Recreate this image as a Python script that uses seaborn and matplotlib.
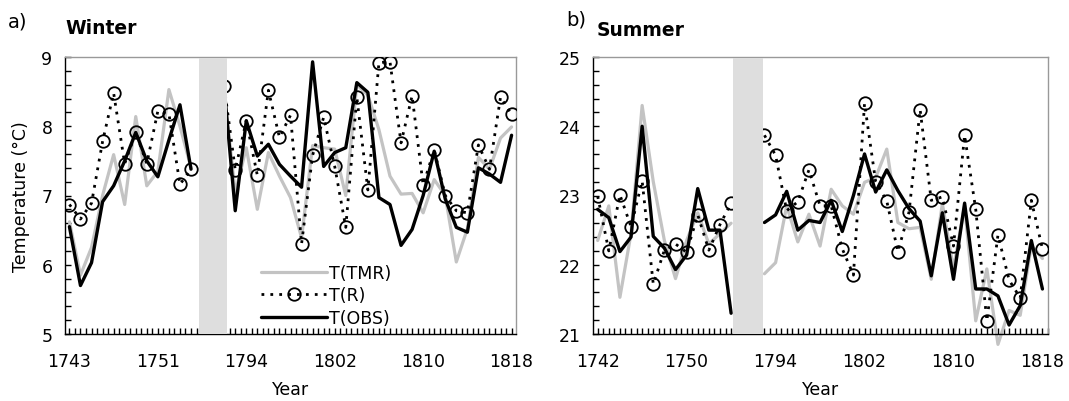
import numpy as np
import pandas as pd
import matplotlib
matplotlib.use("Agg")
import matplotlib.pyplot as plt
import seaborn as sns
from matplotlib.lines import Line2D
from matplotlib.ticker import MultipleLocator

# ---- Winter data (two periods, gap in between) ----
win_years_a = list(range(1743, 1755))
win_years_b = list(range(1792, 1819))
win_tmr_a = [6.62, 5.85, 6.25, 7.00, 7.59, 6.87, 8.14, 7.14, 7.35, 8.53, 8.00, 7.40]
win_r_a = [6.87, 6.66, 6.89, 7.78, 8.48, 7.46, 7.91, 7.46, 8.22, 8.18, 7.16, 7.38]
win_obs_a = [6.55, 5.70, 6.03, 6.91, 7.14, 7.50, 7.91, 7.50, 7.27, 7.80, 8.31, 7.38]
win_tmr_b = [8.50, 7.04, 7.69, 6.80, 7.62, 7.28, 6.97, 6.39, 7.72, 7.69, 7.67, 7.00, 8.60,
             8.45, 7.95, 7.28, 7.02, 7.03, 6.75, 7.23, 7.00, 6.04, 6.52, 7.55, 7.38, 7.83, 7.99]
win_r_b = [8.58, 7.37, 8.08, 7.29, 8.52, 7.84, 8.16, 6.30, 7.58, 8.13, 7.42, 6.54, 8.42,
           7.08, 8.92, 8.93, 7.76, 8.44, 7.15, 7.66, 7.00, 6.78, 6.75, 7.73, 7.38, 8.42, 8.17]
win_obs_b = [8.55, 6.78, 8.08, 7.57, 7.74, 7.45, 7.28, 7.12, 8.93, 7.42, 7.62, 7.69, 8.63,
             8.49, 6.97, 6.87, 6.28, 6.51, 7.00, 7.64, 6.95, 6.54, 6.47, 7.40, 7.31, 7.19, 7.87]

# ---- Summer data ----
sum_years_a = list(range(1742, 1755))
sum_years_b = list(range(1793, 1819))
sum_tmr_a = [22.35, 22.85, 21.53, 22.45, 24.30, 23.20, 22.35, 21.80, 22.35, 22.75, 22.30, 22.45, 22.60]
sum_r_a = [22.99, 22.20, 23.01, 22.55, 23.21, 21.72, 22.21, 22.30, 22.18, 22.72, 22.21, 22.58, 22.89]
sum_obs_a = [22.80, 22.68, 22.19, 22.40, 24.00, 22.41, 22.24, 21.93, 22.14, 23.10, 22.50, 22.50, 21.30]
sum_tmr_b = [21.87, 22.03, 22.85, 22.33, 22.73, 22.27, 23.09, 22.85, 22.73, 23.19, 23.26, 23.67, 22.61,
             22.52, 22.54, 21.79, 22.88, 21.94, 22.85, 21.19, 21.94, 20.85, 21.34, 21.27, 22.28, 22.09]
sum_r_b = [23.87, 23.58, 22.78, 22.91, 23.37, 22.85, 22.85, 22.23, 21.85, 24.33, 23.20, 22.92, 22.19,
           22.76, 24.24, 22.93, 22.98, 22.27, 23.87, 22.80, 21.19, 22.43, 21.78, 21.52, 22.93, 22.23]
sum_obs_b = [22.61, 22.72, 23.06, 22.50, 22.64, 22.61, 22.93, 22.48, 23.00, 23.60, 23.05, 23.37, 23.07,
             22.81, 22.63, 21.84, 22.75, 21.79, 22.89, 21.65, 21.65, 21.55, 21.13, 21.41, 22.35, 21.65]

win_ticklabels = ["1743", "1751", "1794", "1802", "1810", "1818"]
sum_ticklabels = ["1742", "1750", "1794", "1802", "1810", "1818"]

GRAY = "#c3c3c3"
BAND = "#dedede"
MS = 9


def positions(years_a, years_b, gap):
    # category positions: first period, 'gap' empty slots, second period
    pa = np.arange(len(years_a))
    pb = np.arange(len(years_b)) + len(years_a) + gap
    return pa, pb


def draw_panel(ax, pa, pb, tmr, r, obs, band, ylim, ticklabels, xlim):
    for pos, t, rr, o in [(pa, tmr[0], r[0], obs[0]), (pb, tmr[1], r[1], obs[1])]:
        sns.lineplot(x=pos, y=t, ax=ax, color=GRAY, lw=2.3, estimator=None,
                     sort=False, clip_on=False, zorder=2)
        sns.lineplot(x=pos, y=rr, ax=ax, color="black", lw=2.0, ls=(0, (1, 2.2)),
                     marker="o", markersize=MS, markerfacecolor="none",
                     markeredgecolor="black", markeredgewidth=1.3,
                     estimator=None, sort=False, zorder=3)
        sns.lineplot(x=pos, y=o, ax=ax, color="black", lw=2.4, estimator=None,
                     sort=False, zorder=4)
    ax.axvspan(band[0], band[1], ymin=0, ymax=0.995, color=BAND, lw=0, zorder=5)

    ax.set_xlim(*xlim)
    ax.set_ylim(*ylim)
    ax.set_xticks([0, 8, 16, 24, 32, 40])
    ax.set_xticklabels(ticklabels)
    ax.xaxis.set_minor_locator(MultipleLocator(0.5))
    ax.yaxis.set_major_locator(MultipleLocator(1))
    ax.yaxis.set_minor_locator(MultipleLocator(0.2))
    ax.xaxis.set_tick_params(which="major", length=4, width=1.0, direction="in",
                             color="black", pad=13, labelsize=12.5,
                             labelcolor="black", bottom=True, top=False)
    ax.xaxis.set_tick_params(which="minor", length=4, width=1.0, direction="in",
                             color="black", bottom=True, top=False)
    ax.yaxis.set_tick_params(which="both", length=4.5, width=1.0, direction="in",
                             color="black", left=True, right=False, pad=9,
                             labelsize=12.5, labelcolor="black")
    ax.set_xlabel("Year", fontsize=12.5, labelpad=7, color="black")
    ax.grid(False)
    for side in ["top", "right"]:
        ax.spines[side].set_color("#999999")
        ax.spines[side].set_linewidth(1.0)
    for side in ["left", "bottom"]:
        ax.spines[side].set_color("black")
        ax.spines[side].set_linewidth(1.0)


sns.set_theme(style="white")
plt.rcParams["font.family"] = ["DejaVu Sans"]
plt.rcParams["text.color"] = "black"
plt.rcParams["xtick.bottom"] = True
plt.rcParams["ytick.left"] = True

fig = plt.figure(figsize=(10.69, 4.02), dpi=100)
W, H = 1069, 402
ax1 = fig.add_axes([65 / W, 1 - 335 / H, 451 / W, 277 / H])
ax2 = fig.add_axes([593 / W, 1 - 335 / H, 455 / W, 277 / H])

wpa, wpb = positions(win_years_a, win_years_b, 2)
spa, spb = positions(sum_years_a, sum_years_b, 2)

draw_panel(ax1, wpa, wpb, (win_tmr_a, win_tmr_b), (win_r_a, win_r_b), (win_obs_a, win_obs_b),
           (11.7, 14.3), (5, 9), win_ticklabels, (-0.4, 40.4))
draw_panel(ax2, spa, spb, (sum_tmr_a, sum_tmr_b), (sum_r_a, sum_r_b), (sum_obs_a, sum_obs_b),
           (12.2, 14.9), (21, 25), sum_ticklabels, (-0.42, 40.5))

ax1.set_ylabel("Temperature (\u00b0C)", fontsize=12.5, labelpad=8, color="black")
ax2.set_ylabel("")

handles = [
    Line2D([], [], color=GRAY, lw=2.3),
    Line2D([], [], color="black", lw=2.0, ls=(0, (1, 2.2)), marker="o", markersize=MS,
           markerfacecolor="none", markeredgecolor="black", markeredgewidth=1.3),
    Line2D([], [], color="black", lw=2.4),
]
leg = ax1.legend(handles, ["T(TMR)", "T(R)", "T(OBS)"], loc="lower left",
                 bbox_to_anchor=(0.40, -0.03), frameon=False, fontsize=12.5,
                 handlelength=3.8, handletextpad=0.1, labelspacing=0.25, numpoints=1)
for t in leg.get_texts():
    t.set_color("black")

fig.text(8 / W, 1 - 22 / H, "a)", fontsize=14, va="center", ha="left", color="black")
fig.text(65 / W, 1 - 29 / H, "Winter", fontsize=13.5, fontweight="bold", va="center", ha="left", color="black")
fig.text(566 / W, 1 - 20 / H, "b)", fontsize=14, va="center", ha="left", color="black")
fig.text(597 / W, 1 - 31 / H, "Summer", fontsize=13.5, fontweight="bold", va="center", ha="left", color="black")

fig.savefig("out.png", dpi=100)
